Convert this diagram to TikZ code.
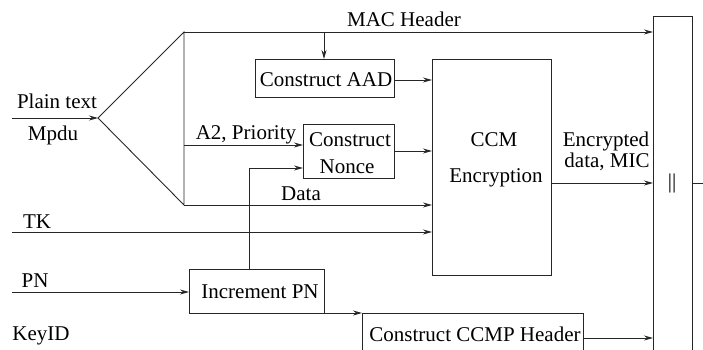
\documentclass[tikz,border=0pt]{standalone}
\usepackage{fontspec}
\setmainfont{Liberation Serif}
\usetikzlibrary{arrows.meta,calc}
\begin{document}
\begin{tikzpicture}[x=1pt,y=-1pt,
  line width=0.9pt, draw=black!85,
  arr/.style={-{Stealth[length=9pt,width=5pt,inset=3pt]}},
  box/.style={draw, line width=0.9pt, inner sep=0pt, outer sep=0pt},
  lbl/.style={anchor=base, inner sep=0pt, font=\rmfamily\fontsize{21}{25}\selectfont}]
\useasboundingbox (0,0) rectangle (703,350);
% boxes
\node[box, minimum width=139pt, minimum height=38pt] (aad) at (324.5,78) {};
\node[box, minimum width=91pt, minimum height=54pt] (nonce) at (348.5,151) {};
\node[box, minimum width=119pt, minimum height=216pt] (ccm) at (491.5,167) {};
\node[box, minimum width=135pt, minimum height=44pt] (inc) at (256.5,291) {};
\node[box, minimum width=221pt, minimum height=50pt] (ccmp) at (472.5,338) {};
\node[box, minimum width=39pt, minimum height=360pt] (cat) at (672.5,196) {};
% coordinates
\coordinate (pin) at (12,118);
\coordinate (apex) at (98,118);
\coordinate (top) at (184,32);
\coordinate (bot) at (184,205);
\coordinate (a2) at (184,145);
\coordinate (tk) at (12,232);
\coordinate (pn) at (12,292);
\coordinate (kid) at (12,353);
\coordinate (tap) at (324,32);
\coordinate (turn) at (249,168);
\coordinate (out) at (703,183);
% labels
\node[lbl] (tmac) at (404,27) {MAC Header};
\node[lbl] (tplain) at (57,108) {Plain text};
\node[lbl] (tmpdu) at (53,140) {Mpdu};
\node[lbl] (ta2) at (246,139) {A2, Priority};
\node[lbl] (taad) at (326,87) {Construct AAD};
\node[lbl] (tcons) at (350,146) {Construct};
\node[lbl] (tnonce) at (347,173) {Nonce};
\node[lbl] (tccm) at (494,146) {CCM};
\node[lbl] (tenc) at (496,182) {Encryption};
\node[lbl] (tenc2) at (606,146) {Encrypted};
\node[lbl] (tmic) at (607,167) {data, MIC};
\node[lbl] (tdata) at (301,200) {Data};
\node[lbl] (ttk) at (37,228) {TK};
\node[lbl] (tpn) at (35,287) {PN};
\node[lbl] (tinc) at (260,298) {Increment PN};
\node[lbl] (tkey) at (41,340) {KeyID};
\node[lbl] (tccmp) at (475,341) {Construct CCMP Header};
\node[lbl] (tbar) at (672,188) {||};
% connectors
\draw[arr] (pin) -- (apex);
\draw (apex) -- (top) -- (bot) -- cycle;
\draw[arr] (top) -- (top -| cat.west);
\draw[arr] (tap) -- (aad.north -| tap);
\draw[arr] ($(aad.east)+(0,2)$) -- ($(aad.east -| ccm.west)+(0,2)$);
\draw[arr] (a2) -- (a2 -| nonce.west);
\draw[arr] (nonce.east) -- (nonce.east -| ccm.west);
\draw[arr] (bot) -- (bot -| ccm.west);
\draw[arr] (tk) -- (tk -| ccm.west);
\draw[arr] (pn) -- (pn -| inc.west);
\draw[arr] (inc.north -| turn) -- (turn) -- (turn -| nonce.west);
\draw[arr] (inc.south east) -- (ccmp.north west);
\draw[arr] (kid) -- (kid -| ccmp.west);
\draw[arr] (ccm.east |- out) -- (out -| cat.west);
\draw[arr] (ccmp.east) -- (ccmp.east -| cat.west);
\draw (cat.east |- out) -- (out);
\end{tikzpicture}
\end{document}
